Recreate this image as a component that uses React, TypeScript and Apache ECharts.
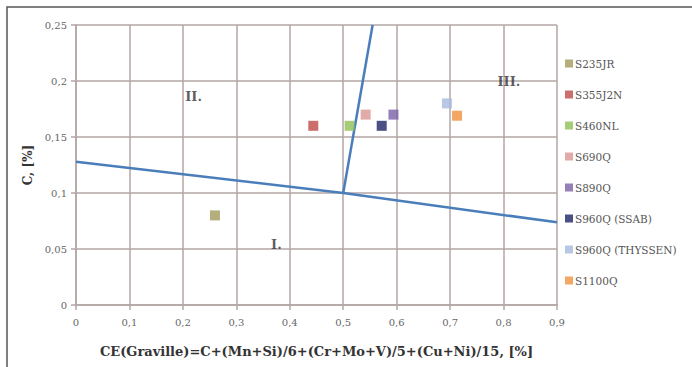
import React, { useEffect, useRef } from "react";
import * as echarts from "echarts";

// Steel grades and their carbon equivalent (Graville) vs. carbon content
const grades = [
  "S235JR",
  "S355J2N",
  "S460NL",
  "S690Q",
  "S890Q",
  "S960Q (SSAB)",
  "S960Q (THYSSEN)",
  "S1100Q",
];
const ceValues = [0.26, 0.444, 0.512, 0.542, 0.594, 0.572, 0.694, 0.713];
const cValues = [0.08, 0.16, 0.16, 0.17, 0.17, 0.16, 0.18, 0.169];
const gradeColors = [
  "#a09a5a",
  "#be4b48",
  "#8fbf55",
  "#d99694",
  "#7b5fa8",
  "#1d2366",
  "#a7b9e0",
  "#f0913f",
];

// Zone boundaries of the Graville diagram
const boundaryLower = [
  [0, 0.128],
  [0.5, 0.1],
  [0.9, 0.0738],
];
const boundaryUpper = [
  [0.5, 0.1],
  [0.555, 0.25],
];

// Zone labels: text, CE, C
const zoneText = ["I.", "II.", "III."];
const zoneX = [0.375, 0.22, 0.81];
const zoneY = [0.054, 0.186, 0.2];

const serif = "'DejaVu Serif', 'Liberation Serif', serif";
const comma = (v: number) => String(v).replace(".", ",");
const gridColor = "#b3a6a5";

export default function App() {
  const ref = useRef<HTMLDivElement>(null);

  useEffect(() => {
    if (!ref.current) return;
    const chart = echarts.init(ref.current, null, { renderer: "svg" });

    const gradeSeries = grades.map((name, i) => ({
      name,
      type: "scatter",
      symbol: "rect",
      symbolSize: 10,
      itemStyle: { color: gradeColors[i] },
      data: [[ceValues[i], cValues[i]]],
      z: 5,
    }));

    const lineStyle = { color: "#4a7ebb", width: 2.5 };

    chart.setOption({
      animation: false,
      backgroundColor: "#ffffff",
      textStyle: { fontFamily: serif },
      grid: { left: 76, right: 135, top: 25, bottom: 62 },
      legend: {
        orient: "vertical",
        left: 560,
        top: 52,
        itemGap: 18,
        itemWidth: 8,
        itemHeight: 8,
        icon: "rect",
        data: grades,
        textStyle: {
          fontFamily: serif,
          fontSize: 10.5,
          lineHeight: 13,
          color: "#555",
          padding: [0, 0, 0, -3],
        },
      },
      xAxis: {
        type: "value",
        min: 0,
        max: 0.9,
        interval: 0.1,
        name: "CE(Graville)=C+(Mn+Si)/6+(Cr+Mo+V)/5+(Cu+Ni)/15, [%]",
        nameLocation: "middle",
        nameGap: 40,
        nameTextStyle: { fontFamily: serif, fontSize: 13, fontWeight: "bold", color: "#333" },
        axisLine: { lineStyle: { color: gridColor, width: 1.5 } },
        axisTick: { show: true, length: 5, lineStyle: { color: gridColor, width: 1.5 } },
        axisLabel: {
          margin: 12,
          fontSize: 10,
          color: "#666",
          fontFamily: serif,
          formatter: (v: number) => comma(Math.round(v * 10) / 10),
        },
        splitLine: { show: true, lineStyle: { color: gridColor, width: 1.5 } },
      },
      yAxis: {
        type: "value",
        min: 0,
        max: 0.25,
        interval: 0.05,
        name: "C, [%]",
        nameLocation: "middle",
        nameGap: 40,
        nameTextStyle: { fontFamily: serif, fontSize: 12, fontWeight: "bold", color: "#333" },
        axisLine: { show: true, lineStyle: { color: gridColor, width: 1.5 } },
        axisTick: { show: true, length: 5, lineStyle: { color: gridColor, width: 1.5 } },
        axisLabel: {
          margin: 9,
          fontSize: 10,
          color: "#666",
          fontFamily: serif,
          formatter: (v: number) => comma(Math.round(v * 100) / 100),
        },
        splitLine: { show: true, lineStyle: { color: gridColor, width: 1.5 } },
      },
      series: [
        {
          name: "boundaryLower",
          type: "line",
          data: boundaryLower,
          symbol: "none",
          lineStyle,
          z: 3,
        },
        {
          name: "boundaryUpper",
          type: "line",
          data: boundaryUpper,
          symbol: "none",
          lineStyle,
          z: 3,
        },
        {
          name: "zones",
          type: "scatter",
          symbolSize: 0,
          data: zoneText.map((t, i) => ({ value: [zoneX[i], zoneY[i]], label: { formatter: t } })),
          label: {
            show: true,
            position: "inside",
            fontFamily: serif,
            fontSize: 13,
            fontWeight: "bold",
            color: "#333",
          },
          z: 4,
        },
        ...gradeSeries,
      ],
      graphic: [
        {
          type: "rect",
          shape: { x: 7, y: 7, width: 720, height: 420 },
          style: { fill: "none", stroke: "#555", lineWidth: 1.5 },
          silent: true,
        },
      ],
    });

    return () => chart.dispose();
  }, []);

  return (
    <div
      ref={ref}
      style={{ position: "fixed", left: 0, top: 0, width: 692, height: 367 }}
    />
  );
}
